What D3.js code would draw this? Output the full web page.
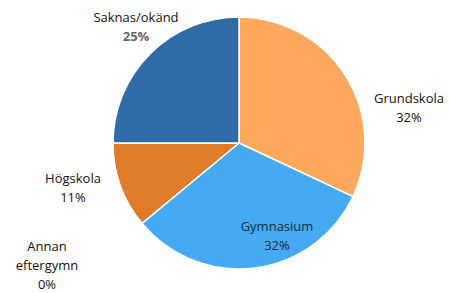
<!DOCTYPE html>
<html><head><meta charset="utf-8">
<script src="https://cdn.jsdelivr.net/npm/d3@7/dist/d3.min.js"></script>
<style>body{margin:0;background:#fff}svg{display:block}</style>
</head><body>
<svg id="c" width="449" height="293"></svg>
<script>
const categories = ["Grundskola", "Gymnasium", "Högskola", "Annan eftergymn", "Saknas/okänd"];
const values = [32, 32, 11, 0, 25];
const labelLines = [["Grundskola"], ["Gymnasium"], ["Högskola"], ["Annan", "eftergymn"], ["Saknas/okänd"]];
const pctLabels = ["32%", "32%", "11%", "0%", "25%"];

const colors = ["#FFA95E", "#45AAF2", "#E07B2A", "#2E75B6", "#2F6CA8"];
const labelPos = [[170, -35], [38, 93], [-166, 45], [-192, 122], [-103, -116]];
const pctColor = ["#111", "#1b2a3a", "#111", "#111", "#666"];

const W = 449, H = 293, cx = 239, cy = 143, R = 126;
const svg = d3.select("#c");
const g = svg.append("g").attr("transform", `translate(${cx},${cy})`);

const data = categories.map((c, i) => ({cat: c, v: values[i], i}));
const pie = d3.pie().sort(null).value(d => d.v).startAngle(0).endAngle(2 * Math.PI);
const arc = d3.arc().innerRadius(0).outerRadius(R);
const arcs = pie(data);

g.selectAll("path").data(arcs.filter(a => a.data.v > 0)).join("path")
  .attr("d", arc)
  .attr("fill", d => colors[d.data.i])
  .attr("stroke", "#fff")
  .attr("stroke-width", 1.5)
  .attr("stroke-linejoin", "round");

const lh = 19;
arcs.forEach(a => {
  const i = a.data.i;
  const lines = labelLines[i].concat([pctLabels[i]]);
  const [dx, dy] = labelPos[i];
  const y0 = dy - (lines.length - 1) * lh / 2;
  const t = g.append("text")
    .attr("text-anchor", "middle")
    .attr("font-family", "'Open Sans', sans-serif")
    .attr("font-size", 13)
    .attr("fill", "#111");
  lines.forEach((l, k) => {
    t.append("tspan").attr("x", dx).attr("y", y0 + k * lh).attr("dy", "0.35em")
      .attr("fill", k === lines.length - 1 ? pctColor[i] : (i === 1 ? "#1b2a3a" : "#111"))
      .attr("font-weight", (i === 4 && k === lines.length - 1) ? "bold" : "normal")
      .text(l);
  });
});
</script>
</body></html>
